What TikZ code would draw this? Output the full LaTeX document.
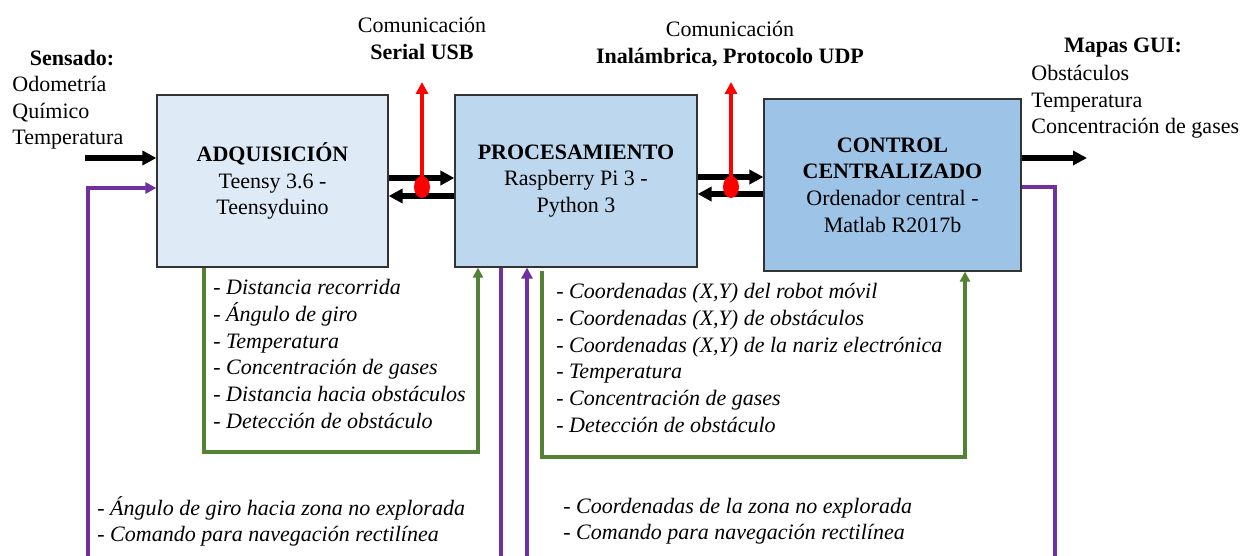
\documentclass[tikz,border=0pt]{standalone}
\usepackage{fontspec}
\setmainfont{Liberation Serif}
\usetikzlibrary{arrows.meta,shapes.geometric}
\definecolor{boxA}{RGB}{222,235,247}
\definecolor{boxB}{RGB}{189,215,238}
\definecolor{boxC}{RGB}{157,195,230}
\definecolor{grn}{RGB}{84,130,53}
\definecolor{prp}{RGB}{112,48,160}
\begin{document}
\begin{tikzpicture}[x=0.5pt,y=-0.5pt,
  every node/.style={font=\fontsize{11}{13.35}\selectfont},
  blockbox/.style={draw=black!80, line width=0.6pt, minimum width=#1, minimum height=86pt, align=center, inner sep=2pt},
  blk/.style={line width=2.6pt, -{Triangle[length=7pt,width=7pt]}},
  redl/.style={red, line width=1.6pt, -{Triangle[length=6pt,width=6pt]}},
  dot/.style={ellipse, fill=red, minimum width=8pt, minimum height=11pt, inner sep=0pt},
  grnl/.style={grn, line width=1.7pt, -{Triangle[length=5pt,width=5pt]}},
  prpl/.style={prp, line width=1.7pt},
  prpa/.style={prpl, -{Triangle[length=5.5pt,width=5.5pt]}},
  lst/.style={align=left, inner sep=0pt, anchor=north west, font=\fontsize{11}{13.35}\selectfont\itshape},
  lstb/.style={lst, font=\fontsize{11}{13}\selectfont\itshape},
  plst/.style={align=left, inner sep=0pt, anchor=north west, font=\fontsize{11}{13.2}\selectfont},
  ttl/.style={font=\fontsize{11}{13.2}\selectfont\bfseries}]
\fill[white] (0,0) rectangle (1242,556);
\useasboundingbox (0,0) rectangle (1242,556);

% blocks
\node[blockbox=115.5pt, fill=boxA] (b1) at (272.5,181) {\textbf{ADQUISICIÓN}\\Teensy 3.6 -\\Teensyduino};
\node[blockbox=121pt, fill=boxB] (b2) at (576,181) {\textbf{PROCESAMIENTO}\\Raspberry Pi 3 -\\Python 3};
\node[blockbox=128.5pt, fill=boxC] (b3) at (892.5,185) {\textbf{CONTROL}\\\textbf{CENTRALIZADO}\\Ordenador central -\\Matlab R2017b};

% black arrows between blocks
\draw[blk] (b1.east |- 0,178) -- (b2.west |- 0,178);
\draw[blk] (b2.west |- 0,196) -- (b1.east |- 0,196);
\draw[blk] (b2.east |- 0,177) -- (b3.west |- 0,177);
\draw[blk] (b3.west |- 0,194) -- (b2.east |- 0,194);

% red communication markers
\node[dot] (e1) at (422,187) {};
\node[dot] (e2) at (731,187) {};
\coordinate (t1) at (422,82);
\coordinate (t2) at (731,82);
\draw[redl] (e1.center) -- (t1);
\draw[redl] (e2.center) -- (t2);

% input / output
\coordinate (in) at (85,158);
\coordinate (out) at (1087,158);
\draw[blk] (in) -- (b1.west |- 0,158);
\draw[blk] (b3.east |- 0,158) -- (out);

% green data paths
\draw[grnl] (b1.south -| 204,0) -- (204,452) -- (478,452) -- (b2.south -| 478,0);
\draw[grnl] ([yshift=-1.5pt]b2.south -| 542,0) -- (542,457) -- (965,457) -- (b3.south -| 965,0);

% purple feedback paths
\coordinate (pa) at (88,556);
\coordinate (pb) at (501,556);
\coordinate (pc) at (527,556);
\coordinate (pd) at (1055,556);
\draw[prpa] (pa) -- (88,188) -- (b1.west |- 0,188);
\draw[prpl] (b2.south -| 501,0) -- (pb);
\draw[prpa] (pc) -- (b2.south -| 527,0);
\draw[prpl] (b3.east |- 0,187) -- (1055,187) -- (pd);

% texts
\node[ttl] (sens) at (72,58) {Sensado:};
\node[plst] (senslist) at (12,76) {Odometría\\Químico\\Temperatura};
\node[ttl] (mapas) at (1123,48) {Mapas GUI:};
\node[plst] (maplist) at (1031,65) {Obstáculos\\Temperatura\\Concentración de gases};
\node[align=center] (com1) at (422,38.5) {Comunicación\\\textbf{Serial USB}};
\node[align=center] (com2) at (730,44) {Comunicación\\\textbf{Inalámbrica, Protocolo UDP}};

\node[lst] (l1) at (213,279) {- Distancia recorrida\\- Ángulo de giro\\- Temperatura\\- Concentración de gases\\- Distancia hacia obstáculos\\- Detección de obstáculo};
\node[lst] (l2) at (556,283) {- Coordenadas (X,Y) del robot móvil\\- Coordenadas (X,Y) de obstáculos\\- Coordenadas (X,Y) de la nariz electrónica\\- Temperatura\\- Concentración de gases\\- Detección de obstáculo};
\node[lstb] (l3) at (97,496) {- Ángulo de giro hacia zona no explorada\\- Comando para navegación rectilínea};
\node[lstb] (l4) at (563,498) {- Coordenadas de la zona no explorada\\- Comando para navegación rectilínea};
\end{tikzpicture}
\end{document}
